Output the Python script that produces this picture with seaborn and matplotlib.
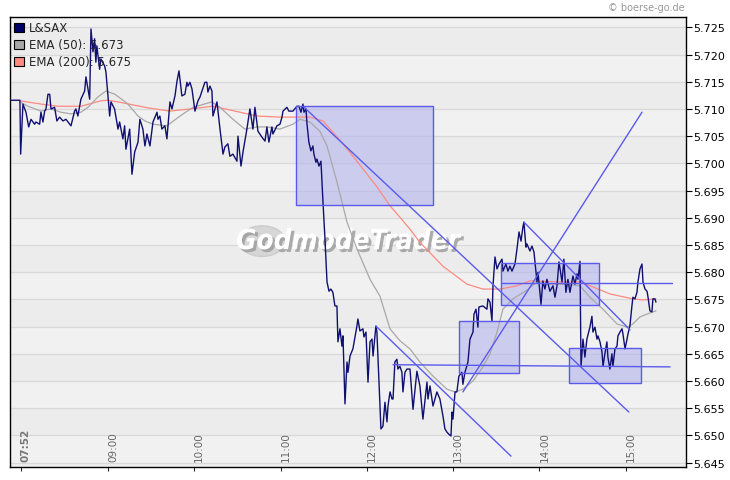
import numpy as np
import pandas as pd
import seaborn as sns
import matplotlib.pyplot as plt
import matplotlib.patheffects as pe
from matplotlib.patches import Patch, Rectangle, Circle
from matplotlib import transforms

# minutes since midnight / price
price_t = [471.9, 478.8, 479.3, 480.9, 483.0, 484.9, 486.5, 489.0, 489.9, 492.5, 493.4, 494.8, 496.0, 496.9,
           498.3, 499.5, 500.4, 502.9, 504.5, 506.4, 508.7, 510.8, 513.4, 514.3, 516.8, 517.7, 519.1, 521.2,
           523.8, 524.7, 526.1, 527.3, 528.2, 529.6, 530.7, 531.6, 532.3, 534.2, 535.1, 537.7, 538.6, 541.2,
           542.1, 544.6, 547.0, 548.1, 550.4, 551.6, 552.5, 555.1, 556.7, 558.6, 560.9,
           562.2, 564.3, 565.7, 567.1, 569.2, 571.3, 574.1, 574.8, 576.1, 577.5, 579.6, 581.0, 583.1, 584.5,
           586.6, 588.0, 589.4, 591.4, 593.5, 594.9, 595.6, 597.0, 598.4, 600.5, 602.6, 604.0, 605.4, 607.4,
           608.8, 609.5, 610.9, 612.3, 613.0, 615.8, 617.9, 620.0, 621.3, 623.4, 624.8, 626.9, 629.7, 630.4,
           632.5, 633.9, 636.6, 638.7, 640.8, 642.2, 644.3, 647.1, 649.2, 650.5, 651.9, 654.0, 654.7, 657.5,
           659.6, 661.0, 661.7, 664.4, 665.8,
           668.6, 671.4, 672.8, 674.2, 675.6, 676.3, 677.7, 678.4, 679.7, 681.1, 682.5, 683.2, 684.6, 685.3,
           686.7, 688.1, 689.5, 690.9, 692.3, 693.7, 695.0, 696.4, 697.8, 699.2, 699.9, 701.3, 702.7, 703.4,
           704.8, 706.2, 706.9, 708.3, 710.3, 713.1, 713.8, 715.2, 717.3, 718.0, 719.4, 720.8, 722.2, 723.6,
           724.3, 726.3, 727.0, 729.8, 731.2, 732.6, 734.0, 734.7, 736.1, 737.5, 738.2, 739.5, 740.9, 741.6,
           743.0, 744.4, 745.1, 746.5, 747.9,
           750.0, 752.1, 754.8, 756.9, 759.0, 761.8, 762.5, 763.9, 766.0, 768.7, 770.8, 772.9, 774.3, 775.7,
           777.1, 778.5, 779.2, 779.9, 781.3, 782.6, 784.0, 786.1, 786.8, 788.2, 790.3, 791.7, 793.8, 794.5,
           795.9, 797.2, 797.9,
           800.7, 803.5, 804.2, 805.6, 807.0, 807.7, 809.1, 810.5, 811.9, 814.0, 814.6, 816.7, 818.1, 819.5,
           820.9, 823.0, 824.4, 825.8, 827.2, 828.5, 829.2, 830.6, 831.3, 833.4, 834.8, 836.2, 838.3, 839.0,
           841.1, 842.4, 843.8, 845.2, 847.3, 849.4, 850.8, 852.2, 853.6, 855.7, 857.0, 858.4, 859.8, 861.2,
           863.3, 864.7, 866.1, 866.8, 868.2,
           868.9, 870.3, 871.6, 873.0, 875.1, 876.5, 877.2, 878.6, 880.0, 880.7, 882.1, 883.5, 884.2, 885.5,
           886.9, 887.6, 889.0, 890.4, 891.1, 892.5, 893.9, 894.6, 896.0, 897.4, 898.1, 899.5, 900.9, 901.5,
           902.9, 904.3, 905.0, 906.4, 907.8, 908.5, 909.9, 911.3, 912.0, 913.4, 914.8, 915.5, 916.8, 918.2,
           918.9, 920.3, 921.0]
price_v = [5.7116, 5.7116, 5.7017, 5.7109, 5.7094, 5.7067, 5.7081, 5.7072, 5.7076, 5.7072, 5.7094, 5.7076, 5.7096, 5.7100,
           5.7127, 5.7127, 5.7100, 5.7103, 5.7078, 5.7085, 5.7078, 5.7081, 5.7072, 5.7069, 5.7096, 5.7100, 5.7087, 5.7118,
           5.7133, 5.7159, 5.7137, 5.7118, 5.7247, 5.7205, 5.7229, 5.7186, 5.7216, 5.7173, 5.7192, 5.7179, 5.7168, 5.7087,
           5.7113, 5.7100, 5.7063, 5.7076, 5.7045, 5.7069, 5.7026, 5.7063, 5.6980, 5.7021, 5.7039,
           5.7081, 5.7063, 5.7032, 5.7054, 5.7032, 5.7076, 5.7094, 5.7081, 5.7087, 5.7063, 5.7069, 5.7045, 5.7113, 5.7100,
           5.7124, 5.7151, 5.7170, 5.7124, 5.7127, 5.7149, 5.7142, 5.7149, 5.7137, 5.7096, 5.7115, 5.7122, 5.7133, 5.7149,
           5.7149, 5.7131, 5.7142, 5.7133, 5.7087, 5.7113, 5.7063, 5.7017, 5.7030, 5.7036, 5.7013, 5.7017, 5.7004, 5.7050,
           5.6995, 5.7021, 5.7063, 5.7100, 5.7063, 5.7103, 5.7059, 5.7048, 5.7041, 5.7067, 5.7039, 5.7067, 5.7054, 5.7069,
           5.7072, 5.7085, 5.7096, 5.7103, 5.7096,
           5.7096, 5.7105, 5.7105, 5.7094, 5.7109, 5.7094, 5.7100, 5.7072, 5.7039, 5.7023, 5.7032, 5.7017, 5.7002, 5.7008,
           5.6995, 5.7004, 5.6929, 5.6861, 5.6782, 5.6765, 5.6769, 5.6763, 5.6738, 5.6738, 5.6672, 5.6696, 5.6664, 5.6683,
           5.6558, 5.6635, 5.6616, 5.6646, 5.6659, 5.6701, 5.6714, 5.6692, 5.6696, 5.6681, 5.6690, 5.6598, 5.6672, 5.6677,
           5.6646, 5.6701, 5.6690, 5.6512, 5.6517, 5.6561, 5.6525, 5.6554, 5.6580, 5.6567, 5.6567, 5.6635, 5.6640, 5.6622,
           5.6627, 5.6616, 5.6580, 5.6616, 5.6622,
           5.6622, 5.6548, 5.6618, 5.6591, 5.6530, 5.6598, 5.6567, 5.6591, 5.6554, 5.6580, 5.6567, 5.6536, 5.6512, 5.6506,
           5.6502, 5.6499, 5.6543, 5.6530, 5.6580, 5.6580, 5.6609, 5.6616, 5.6594, 5.6616, 5.6635, 5.6677, 5.6690, 5.6723,
           5.6732, 5.6699, 5.6736,
           5.6738, 5.6732, 5.6751, 5.6745, 5.6710, 5.6775, 5.6828, 5.6806, 5.6815, 5.6824, 5.6802, 5.6815, 5.6802, 5.6811,
           5.6802, 5.6815, 5.6843, 5.6874, 5.6857, 5.6883, 5.6892, 5.6846, 5.6852, 5.6839, 5.6848, 5.6837, 5.6782, 5.6800,
           5.6741, 5.6784, 5.6769, 5.6787, 5.6765, 5.6775, 5.6754, 5.6775, 5.6819, 5.6782, 5.6824, 5.6763, 5.6787, 5.6763,
           5.6793, 5.6778, 5.6797, 5.6787, 5.6820,
           5.6627, 5.6677, 5.6644, 5.6677, 5.6699, 5.6719, 5.6690, 5.6699, 5.6677, 5.6683, 5.6672, 5.6653, 5.6627, 5.6650,
           5.6672, 5.6644, 5.6622, 5.6650, 5.6627, 5.6659, 5.6664, 5.6683, 5.6690, 5.6696, 5.6686, 5.6659, 5.6677, 5.6686,
           5.6701, 5.6738, 5.6754, 5.6751, 5.6763, 5.6782, 5.6806, 5.6815, 5.6782, 5.6769, 5.6765, 5.6754, 5.6729, 5.6727,
           5.6751, 5.6751, 5.6745]

ema200_t = [478.8, 493.4, 505.2, 521.2, 535.1, 540.0, 547.0, 567.8, 583.1, 597.0, 613.0, 631.8, 643.6, 659.6,
            673.5, 680.4, 689.5, 703.4, 713.1, 727.0, 736.1, 743.0, 750.0, 756.9, 772.9, 789.6, 800.7, 812.6,
            824.4, 833.4, 856.4, 868.2, 877.2, 889.0, 905.0, 912.0, 921.0]
ema200_v = [5.7115, 5.7109, 5.7105, 5.7105, 5.7115, 5.7116, 5.7113, 5.7102, 5.7096, 5.7100, 5.7105, 5.7094, 5.7087, 5.7085,
            5.7085, 5.7085, 5.7078, 5.7036, 5.7004, 5.6957, 5.6922, 5.6901, 5.6879, 5.6855, 5.6811, 5.6778, 5.6769, 5.6769,
            5.6775, 5.6784, 5.6782, 5.6782, 5.6773, 5.6760, 5.6751, 5.6749, 5.6751]

ema50_t = [478.8, 484.4, 493.4, 500.4, 507.3, 514.3, 521.2, 526.1, 533.0, 538.6, 544.9, 553.9, 560.9, 565.7,
           571.3, 581.0, 590.1, 599.1, 612.3, 617.9, 626.9, 635.2, 643.6, 650.5, 659.6, 668.6, 673.5, 680.4,
           687.4, 692.3, 699.2, 706.2, 713.1, 722.2, 729.1, 736.1, 743.0, 750.0, 756.9, 766.0, 775.7, 781.3,
           786.8, 793.8, 800.7, 805.6, 810.5, 814.6, 821.6, 831.3, 838.3, 845.2, 856.4, 868.2, 875.1, 884.2,
           893.9, 900.9, 905.0, 909.9, 914.8, 921.0]
ema50_v = [5.7113, 5.7105, 5.7096, 5.7100, 5.7094, 5.7091, 5.7094, 5.7103, 5.7122, 5.7133, 5.7127, 5.7109, 5.7087, 5.7078,
           5.7072, 5.7069, 5.7087, 5.7103, 5.7113, 5.7103, 5.7081, 5.7063, 5.7067, 5.7067, 5.7063, 5.7072, 5.7081, 5.7076,
           5.7059, 5.7032, 5.6966, 5.6892, 5.6843, 5.6787, 5.6756, 5.6696, 5.6674, 5.6659, 5.6635, 5.6609, 5.6585, 5.6580,
           5.6585, 5.6600, 5.6626, 5.6650, 5.6690, 5.6732, 5.6751, 5.6767, 5.6782, 5.6778, 5.6778, 5.6775, 5.6754, 5.6732,
           5.6705, 5.6699, 5.6705, 5.6718, 5.6723, 5.6729]

# drawn boxes: (t0, t1, p_low, p_high)
boxes = [(670.7, 766.0, 5.6924, 5.7105),
         (784.0, 825.8, 5.6615, 5.6710),
         (813.2, 881.4, 5.6740, 5.6817),
         (860.5, 910.6, 5.6596, 5.6661)]
# drawn trend lines: (t0, p0, t1, p1)
trend_lines = [(675.6, 5.7105, 902.2, 5.6543),
               (726.3, 5.6701, 820.2, 5.6462),
               (786.8, 5.6580, 911.3, 5.7094),
               (738.2, 5.6630, 930.8, 5.6626),
               (813.2, 5.6780, 932.1, 5.6780),
               (829.2, 5.6892, 903.0, 5.6694)]

tick_pos = [479.5, 540, 600, 660, 720, 780, 840, 900]
tick_labels = ["07:52", "09:00", "10:00", "11:00", "12:00", "13:00", "14:00", "15:00"]
y_ticks = np.round(np.arange(5.645, 5.7251, 0.005), 3)

sns.set_style("white")
plt.rcParams['font.family'] = ['DejaVu Sans']

fig = plt.figure(figsize=(7.3, 4.81), dpi=100)
ax = fig.add_axes([10 / 730, 13 / 481, 676 / 730, 450 / 481])
ax.set_facecolor("#eeeeee")
ax.set_xlim(471.9, 941.9)
ax.set_ylim(5.6442, 5.7269)

# alternating bands + grid
for i, y in enumerate(y_ticks[:-1]):
    ax.axhspan(y, y + 0.005, color="#f1f1f1" if i % 2 == 0 else "#ececec", zorder=0, lw=0)
ax.axhspan(y_ticks[-1], 5.7269, color="#f1f1f1", zorder=0, lw=0)
for y in y_ticks:
    ax.axhline(y, color="#d9d9d9", lw=0.9, zorder=0.5)

# watermark
ax.add_patch(Circle((0.373, 0.502), 0.034, transform=ax.transAxes, color="#d6d6d6", zorder=1,
                    ec="#cccccc"))
ax.text(0.5, 0.502, "GodmodeTrader", transform=ax.transAxes, ha="center", va="center",
        fontsize=20, fontweight="bold", fontstyle="italic", fontstretch="condensed", color="white", zorder=1.2,
        path_effects=[pe.withSimplePatchShadow(offset=(2, -2), shadow_rgbFace="#9a9a9a", alpha=0.8)])

blue = "#5a5aee"
for t0, t1, lo, hi in boxes:
    ax.add_patch(Rectangle((t0, lo), t1 - t0, hi - lo, facecolor="#b4b4ee", alpha=0.6,
                           edgecolor="none", zorder=2))
    ax.add_patch(Rectangle((t0, lo), t1 - t0, hi - lo, facecolor="none",
                           edgecolor=blue, lw=1.0, zorder=4))

ema200 = pd.DataFrame({"t": ema200_t, "p": ema200_v})
ema50 = pd.DataFrame({"t": ema50_t, "p": ema50_v})
price = pd.DataFrame({"t": price_t, "p": price_v})
sns.lineplot(data=ema200, x="t", y="p", color="#ff8a80", lw=0.9, ax=ax, sort=False, estimator=None, zorder=3)
sns.lineplot(data=ema50, x="t", y="p", color="#a8a8a8", lw=0.9, ax=ax, sort=False, estimator=None, zorder=3)
sns.lineplot(data=price, x="t", y="p", color="#101070", lw=1.0, ax=ax, sort=False, estimator=None, zorder=3.5)

for t0, p0, t1, p1 in trend_lines:
    ax.plot([t0, t1], [p0, p1], color=blue, lw=1.0, zorder=4)

# axes styling
ax.set_xlabel("")
ax.set_ylabel("")
for s in ax.spines.values():
    s.set_color("black")
    s.set_linewidth(1.0)
ax.yaxis.tick_right()
ax.set_yticks(y_ticks)
ax.set_yticklabels([f"{v:.3f}" for v in y_ticks])
ax.tick_params(axis="y", direction="out", length=4, width=0.8, labelsize=8, pad=1, colors="black")
ax.set_xticks(tick_pos)
ax.set_xticklabels([])
ax.tick_params(axis="x", direction="out", length=3, width=0.8, bottom=True)

trans = transforms.blended_transform_factory(ax.transData, ax.transAxes)
for i, (x, lab) in enumerate(zip(tick_pos, tick_labels)):
    ax.text(x, 0.013, lab, transform=trans, rotation=90, ha="left", va="bottom", fontsize=7.5,
            color="#666666" if i else "#777777", fontweight="bold" if i == 0 else "normal", zorder=5)

handles = [Patch(facecolor="#000066", edgecolor="black", lw=0.8),
           Patch(facecolor="#a8a8a8", edgecolor="black", lw=0.8),
           Patch(facecolor="#ff8a80", edgecolor="black", lw=0.8)]
leg = ax.legend(handles, ["L&SAX", "EMA (50): 5.673", "EMA (200): 5.675"], loc="upper left",
                frameon=False, fontsize=8.5, handlelength=0.8, handleheight=0.8, handletextpad=0.45,
                labelspacing=0.35, borderaxespad=0.15, borderpad=0.2)
leg.set_zorder(6)

fig.text(685 / 730, 1 - 8 / 481, "© boerse-go.de", ha="right", va="center", fontsize=7, color="#999999")

fig.savefig("out.png", dpi=100)
